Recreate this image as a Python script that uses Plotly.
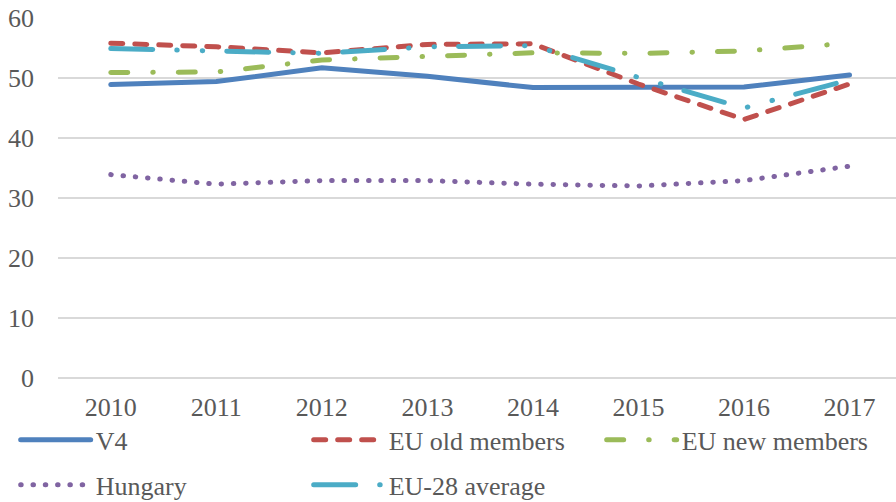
import plotly.graph_objects as go

years = ["2010", "2011", "2012", "2013", "2014", "2015", "2016", "2017"]
v4 = [48.9, 49.4, 51.7, 50.3, 48.4, 48.5, 48.5, 50.5]
eu_old = [55.8, 55.2, 54.2, 55.6, 55.7, 49.0, 43.1, 49.0]
eu_new = [50.9, 51.0, 53.0, 53.5, 54.2, 54.1, 54.5, 55.8]
hungary = [33.9, 32.3, 32.9, 32.9, 32.3, 32.0, 32.9, 35.3]
eu28 = [54.9, 54.4, 54.1, 55.2, 55.4, 50.1, 45.0, 49.7]

series = [
    ("V4", v4, "#4F81BD", "solid", "legend"),
    ("EU old members", eu_old, "#C0504D", "12px,12px", "legend"),
    ("EU new members", eu_new, "#9BBB59", "17px,25px,0.5px,25px", "legend"),
    ("Hungary", hungary, "#8064A2", "0.5px,11.8px", "legend2"),
    ("EU-28 average", eu28, "#4BACC6", "42px,24px,0.5px,25px,0.5px,24px", "legend2"),
]

fig = go.Figure()
for name, vals, color, dash, lg in series:
    fig.add_trace(go.Scatter(x=years, y=vals, name=name, mode="lines", legend=lg,
                             line=dict(color=color, width=5, dash=dash)))

font = dict(family="'Liberation Serif', 'Times New Roman', serif", size=26, color="#595959")
legend_common = dict(orientation="h", xanchor="left", yanchor="middle",
                     entrywidth=208, entrywidthmode="pixels", font=font,
                     traceorder="normal", itemwidth=70, bgcolor="rgba(0,0,0,0)")
fig.update_layout(
    width=896, height=502,
    margin=dict(l=58, r=0, t=18, b=124, autoexpand=False),
    paper_bgcolor="white", plot_bgcolor="white",
    font=font,
    showlegend=True,
    legend=dict(x=-0.0505, y=-0.172, **legend_common),
    legend2=dict(x=-0.0505, y=-0.297, **legend_common),
    xaxis=dict(type="category", range=[-0.5, 7.44], showgrid=False, ticks="",
               showline=False, tickfont=font, ticklabelstandoff=11),
    yaxis=dict(range=[0, 60], dtick=10, showgrid=True, gridcolor="#D9D9D9", gridwidth=1.5,
               zeroline=True, zerolinecolor="#D9D9D9", zerolinewidth=1.5,
               ticks="", tickfont=font, ticklabelstandoff=23),
)

post = """
document.body.style.margin='0';
document.querySelectorAll('path.js-line').forEach(function(p){p.style.strokeLinecap='round';});
"""
fig.write_html("out.html", post_script=post, config={"displayModeBar": False})
